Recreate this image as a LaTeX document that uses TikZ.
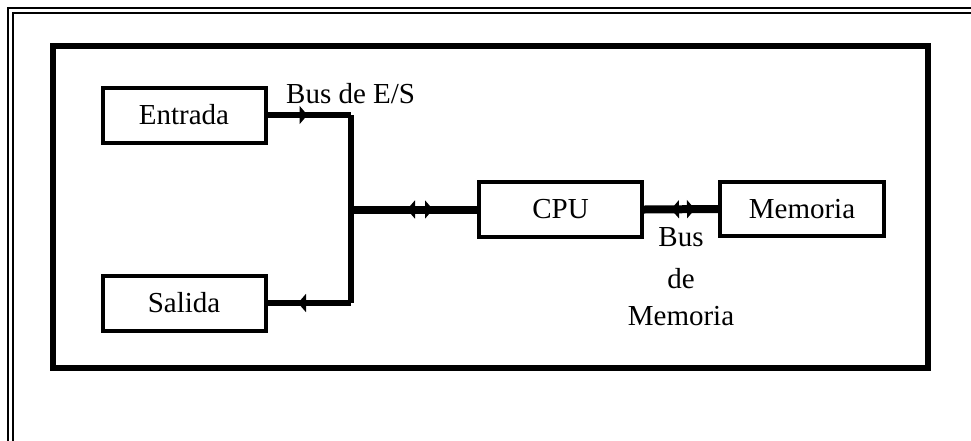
\documentclass[tikz,border=0pt]{standalone}
\usepackage{fontspec}
\setmainfont{Liberation Serif}
\usetikzlibrary{arrows.meta,decorations.markings}
\tikzset{
  box/.style={draw,line width=4pt,minimum width=163pt,minimum height=55pt,inner sep=0pt,font=\fontsize{29}{34}\selectfont},
  lbl/.style={inner sep=0pt,font=\fontsize{29}{34}\selectfont},
  busline/.style={line width=6pt,line join=miter},
  widebus/.style={line width=8pt},
  bustip/.tip={Triangle[length=8pt,width=18pt]}
}
\begin{document}
\begin{tikzpicture}[x=1pt,y=-1pt]
\useasboundingbox (0,0) rectangle (971,440);
% outer double frame (cut at right and bottom)
\draw[line width=2pt] (8.3,445) -- (8.3,8.3) -- (976,8.3);
\draw[line width=2pt] (12.5,445) -- (12.5,12.5) -- (976,12.5);
% thick enclosing box
\draw[line width=6.5pt] (53,46) rectangle (928,368);
% boxes
\node[box] (ent) at (184,115) {Entrada};
\node[box] (sal) at (184,303) {Salida};
\node[box] (cpu) at (560.5,209.5) {CPU};
\node[box,minimum width=163.5pt,minimum height=54pt] (mem) at (802,209) {Memoria};
% junctions
\coordinate (j1) at (351,115);
\coordinate (j2) at (351,303);
\coordinate (j3) at (351,209.5);
% I/O bus
\draw[busline] (j1) -- (j2);
\draw[busline,postaction={decorate},decoration={markings,mark=at position 40pt with {\arrow{bustip}}}] (ent.east) -- (j1);
\draw[busline,postaction={decorate},decoration={markings,mark=at position 53pt with {\arrow{bustip}}}] (j2) -- (sal.east);
\draw[widebus,postaction={decorate},decoration={markings,
  mark=at position 56pt with {\arrowreversed{bustip}},
  mark=at position 82pt with {\arrow{bustip}}}] (j3) -- (cpu.west);
% memory bus
\draw[widebus,postaction={decorate},decoration={markings,
  mark=at position 27pt with {\arrowreversed{bustip}},
  mark=at position 51pt with {\arrow{bustip}}}] (cpu.east) -- (mem.west);
% labels
\node[lbl,anchor=base west] (lio) at (286,103) {Bus de E/S};
\node[lbl,anchor=base] (lm1) at (681,246) {Bus};
\node[lbl,anchor=base] (lm2) at (681,288) {de};
\node[lbl,anchor=base] (lm3) at (681,325) {Memoria};
\end{tikzpicture}
\end{document}
